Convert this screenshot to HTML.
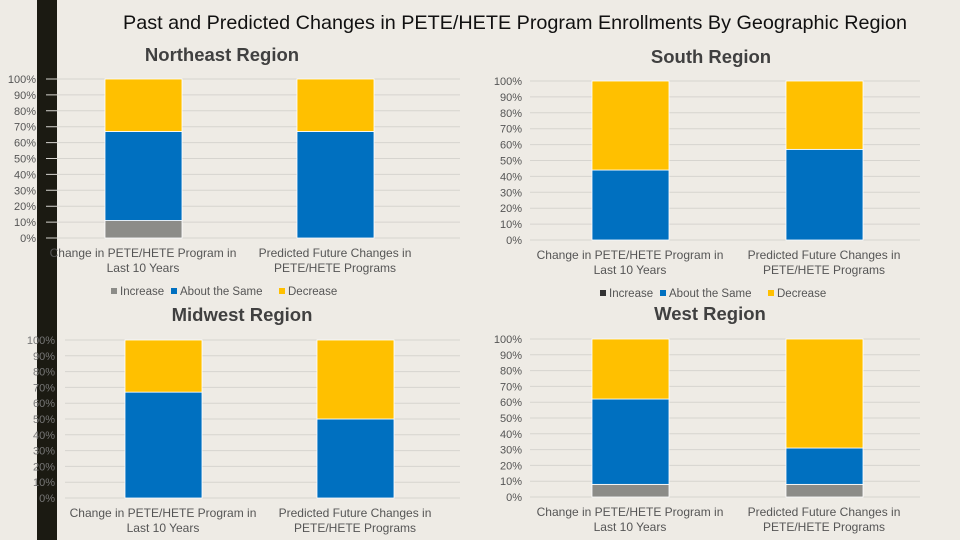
<!DOCTYPE html>
<html><head><meta charset="utf-8"><style>
body{margin:0;width:960px;height:540px;background:#EEEBE5;overflow:hidden;font-family:"Liberation Sans",sans-serif}
svg{position:absolute;left:0;top:0}
</style></head><body>
<svg id="s" width="960" height="540">
<rect x="37" y="0" width="20" height="540" fill="#1b1a12"/>
<text x="515" y="29" text-anchor="middle" font-size="19.8" fill="#111">Past and Predicted Changes in PETE/HETE Program Enrollments By Geographic Region</text>
</svg>
<script>
const categories=["Change in PETE/HETE Program in|Last 10 Years","Predicted Future Changes in|PETE/HETE Programs"];
const seriesNames=["Increase","About the Same","Decrease"];
const colors=["#8c8c88","#0070C0","#FFC000"];
const tickLabels=["0%","10%","20%","30%","40%","50%","60%","70%","80%","90%","100%"];
const neIncrease=[11,0], neSame=[56,67], neDecrease=[33,33];
const soIncrease=[0,0], soSame=[44,57], soDecrease=[56,43];
const mwIncrease=[0,0], mwSame=[67,50], mwDecrease=[33,50];
const weIncrease=[8,8], weSame=[54,23], weDecrease=[38,69];
const regions=[
 {name:"Northeast Region",key:"northeast",data:[neIncrease,neSame,neDecrease],top:79,bot:238,lab:36,gx0:46,gx1:460,bars:[105,297],tx:222,ty:61,legend:224,ly:295,labY:257},
 {name:"South Region",key:"south",data:[soIncrease,soSame,soDecrease],top:81,bot:240,lab:522,gx0:530,gx1:920,bars:[592,786],tx:711,ty:63,legend:713,ly:297,labY:259},
 {name:"Midwest Region",key:"midwest",data:[mwIncrease,mwSame,mwDecrease],top:340,bot:498,lab:55,gx0:65,gx1:460,bars:[125,317],tx:242,ty:321,labY:517},
 {name:"West Region",key:"west",data:[weIncrease,weSame,weDecrease],top:339,bot:497,lab:522,gx0:530,gx1:920,bars:[592,786],tx:710,ty:320,labY:516}
];
const s=document.getElementById('s');
const NS="http://www.w3.org/2000/svg";
function mk(t,a,txt){const e=document.createElementNS(NS,t);for(const k in a)e.setAttribute(k,a[k]);if(txt!==undefined)e.textContent=txt;s.appendChild(e);return e;}
regions.forEach(r=>{
 const y=v=>r.bot-(r.bot-r.top)*v/100;
 const t=mk('text',{x:r.tx,y:r.ty,'text-anchor':'middle','font-size':18.5,'font-weight':'bold',fill:'#404040'},r.name);
 
 
 tickLabels.forEach((lbl,i)=>{
  const v=i*10;
  const g=mk('line',{x1:r.gx0,x2:r.gx1,y1:y(v),y2:y(v),stroke:'#d6d4cf','stroke-width':1});
  
  
  const l=mk('text',{x:r.lab,y:y(v)+4,'text-anchor':'end','font-size':11,fill:r.key==='midwest'?'#777':'#555'},lbl);
  
  
 });
 categories.forEach((c,ci)=>{
  let acc=0;
  r.data.forEach((ser,si)=>{
   const v=ser[ci]; if(!v){return;}
   const b=mk('rect',{x:r.bars[ci],y:y(acc+v),width:77,height:y(acc)-y(acc+v),fill:colors[si],stroke:'#fff','stroke-width':0.8});
   
   
   acc+=v;
  });
  const parts=c.split('|');
  parts.forEach((p,pi)=>{
   const ct=mk('text',{x:r.bars[ci]+38,y:r.labY+pi*15,'text-anchor':'middle','font-size':12,fill:'#555'},p);
   
   
  });
 });
 if(r.legend){
  const widths=[60,108,58];const total=widths.reduce((a,b)=>a+b);let x=r.legend-total/2;
  seriesNames.forEach((n,i)=>{
   const sw=mk('rect',{x:x,y:r.ly-7,width:6,height:6,fill:(r.key==='south'&&i===0)?'#333':colors[i]});
   
   
   const lt=mk('text',{x:x+9,y:r.ly,'font-size':11.5,fill:'#555'},n);
   
   
   x+=widths[i];
  });
 }
});
</script>
</body></html>
